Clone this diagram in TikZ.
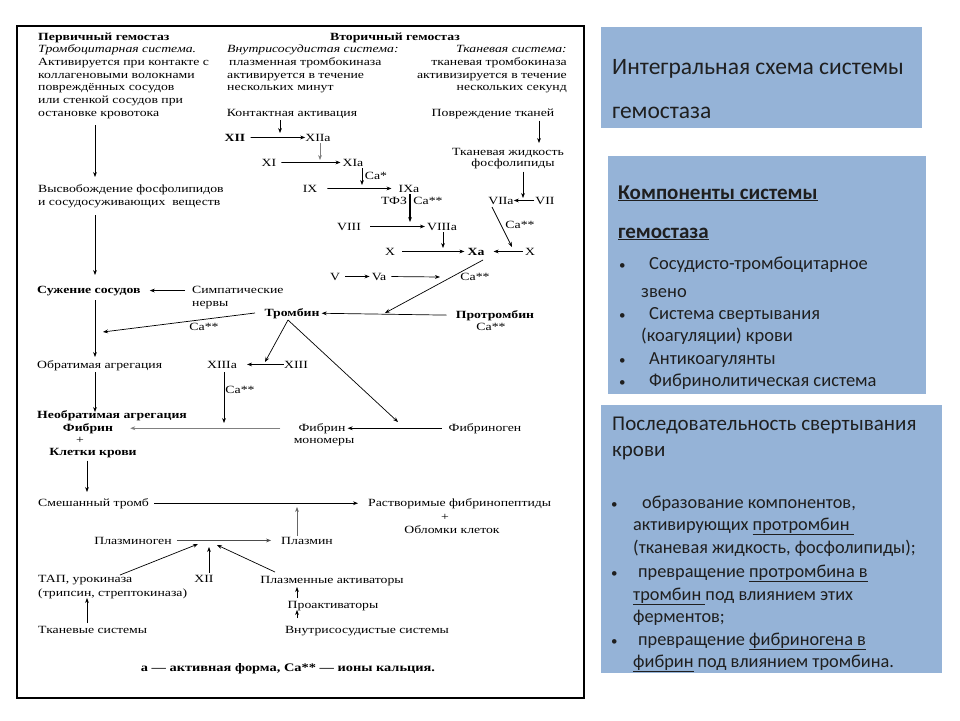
\documentclass[tikz,border=0pt]{standalone}
\usepackage{fontspec}
\setmainfont{Liberation Serif}
\newfontfamily\diag[FakeStretch=1.25]{Liberation Serif}
\newfontfamily\slide{Carlito}
\usetikzlibrary{arrows.meta}
\definecolor{panelblue}{HTML}{95B3D7}
\definecolor{slidetext}{HTML}{1F1F1F}
\begin{document}
\begin{tikzpicture}[x=1pt,y=-1pt,
  every node/.style={inner sep=0pt},
  t/.style={font=\diag\fontsize{11}{13}\selectfont, anchor=base},
  tb/.style={font=\diag\fontsize{11}{13}\selectfont\bfseries, anchor=base},
  ti/.style={font=\diag\fontsize{11}{13}\selectfont\itshape, anchor=base},
  lw/.style={anchor=base west},
  re/.style={anchor=base east},
  arr/.style={-{Stealth[length=5pt,width=3.8pt]}, line width=0.7pt},
  garr/.style={arr, draw=black!50},
  panel/.style={fill=panelblue},
  st/.style={font=\slide\fontsize{18.5}{22}\selectfont, text=slidetext, anchor=base west},
  st3/.style={font=\slide\fontsize{18.3}{22}\selectfont, text=slidetext, anchor=base west},
  bul/.style={font=\slide\fontsize{13}{15}\selectfont, text=slidetext, anchor=base west},
  sth/.style={font=\slide\fontsize{21}{24}\selectfont, text=slidetext, anchor=base west},
  stt/.style={font=\slide\fontsize{23.5}{26}\selectfont, text=slidetext, anchor=base west},
  stb/.style={font=\slide\fontsize{21}{24}\selectfont\bfseries, text=slidetext, anchor=base west}
]
\useasboundingbox (0,0) rectangle (960,720);
\fill[white] (0,0) rectangle (960,720);

% frame
\draw[line width=2.4pt] (17,26) rectangle (584,698);

% ---------- header texts
\node[tb,lw] (h1) at (38,40) {Первичный гемостаз};
\node[ti,lw] (h2) at (38,52.7) {Тромбоцитарная система.};
\node[t,lw] (h3) at (38,65.3) {Активируется при контакте с};
\node[t,lw] (h4) at (38,78) {коллагеновыми волокнами};
\node[t,lw] (h5) at (38,90.7) {повреждённых сосудов};
\node[t,lw] (h6) at (38,103.3) {или стенкой сосудов при};
\node[t,lw] (h7) at (38,116) {остановке кровотока};

\node[tb] (v1) at (395,40) {Вторичный гемостаз};
\node[ti,lw] (v2) at (227,52.7) {Внутрисосудистая система:};
\node[t,lw] (v3) at (229,65.3) {плазменная тромбокиназа};
\node[t,lw] (v4) at (227,78) {активируется в течение};
\node[t,lw] (v5) at (227,90.7) {нескольких минут};

\node[ti,re] (w2) at (567,52.7) {Тканевая система:};
\node[t,re] (w3) at (567,65.3) {тканевая тромбокиназа};
\node[t,re] (w4) at (567,78) {активизируется в течение};
\node[t,re] (w5) at (567,90.7) {нескольких секунд};

% ---------- primary column
\node[t,lw] (rel1) at (38,192) {Высвобождение фосфолипидов};
\node[t,lw] (rel2) at (38,205) {и сосудосуживающих\ \ веществ};
\node[tb,lw] (narrow) at (37,293) {Сужение сосудов};
\node[t,lw] (symp1) at (192,293) {Симпатические};
\node[t,lw] (symp2) at (192,306) {нервы};
\node[t] (ca5) at (204,330) {Ca**};
\node[t,lw] (revagg) at (37,368) {Обратимая агрегация};
\node[tb,lw] (irr) at (37,418) {Необратимая агрегация};
\node[tb] (fibrin) at (88,431) {Фибрин};
\node[t] (plus1) at (80,443) {+};
\node[tb] (cells) at (93,455) {Клетки крови};

% ---------- intrinsic cascade
\node[t] (contact) at (292,116) {Контактная активация};
\node[tb] (f12) at (235,141) {XII};
\node[t] (f12a) at (318,141) {XIIa};
\node[t] (f11) at (269,166) {XI};
\node[t] (f11a) at (353,166) {XIa};
\node[t] (ca1) at (376,179) {Ca*};
\node[t] (f9) at (310,192) {IX};
\node[t] (f9a) at (409,192) {IXa};
\node[t] (tf3) at (394,204) {ТФЗ};
\node[t] (ca2) at (428,204) {Ca**};
\node[t] (f8) at (349,230) {VIII};
\node[t] (f8a) at (442,230) {VIIIa};
\node[t] (f10l) at (390,255) {X};
\node[tb] (f10a) at (476,255) {Xa};
\node[t] (f10r) at (530,255) {X};
\node[t] (f5) at (335,280) {V};
\node[t] (f5a) at (379,280) {Va};
\node[t] (ca4) at (475,280) {Ca**};

% ---------- extrinsic
\node[t] (injury) at (493,116) {Повреждение тканей};
\node[t] (tiss1) at (508,155) {Тканевая жидкость};
\node[t] (tiss2) at (513,166) {фосфолипиды};
\node[t] (f7a) at (501,204) {VIIa};
\node[t] (f7) at (545,204) {VII};
\node[t] (ca3) at (520,228) {Ca**};

% ---------- thrombin etc
\node[tb] (thr) at (292,316) {Тромбин};
\node[tb] (prothr) at (495,318) {Протромбин};
\node[t] (ca6) at (491,330) {Ca**};
\node[t] (f13a) at (222,368) {XIIIa};
\node[t] (f13) at (296,368) {XIII};
\node[t] (ca7) at (240,393) {Ca**};
\node[t] (fm1) at (322,431) {Фибрин};
\node[t] (fm2) at (324,443) {мономеры};
\node[t] (fgen) at (485,431) {Фибриноген};

% ---------- fibrinolysis
\node[t,lw] (mixed) at (38,506) {Смешанный тромб};
\node[t,lw] (sol) at (368,506) {Растворимые фибринопептиды};
\node[t] (plus2) at (445,520) {+};
\node[t] (debris) at (452,533) {Обломки клеток};
\node[t] (plgen) at (133,544) {Плазминоген};
\node[t] (plas) at (307,544) {Плазмин};
\node[t,lw] (tap1) at (38,582) {ТАП, урокиназа};
\node[t,lw] (tap2) at (38,596) {(трипсин, стрептокиназа)};
\node[t] (f12b) at (204,582) {XII};
\node[t] (pact) at (332,583) {Плазменные активаторы};
\node[t] (proact) at (333,608) {Проактиваторы};
\node[t] (intra) at (367,633) {Внутрисосудистые системы};
\node[t,lw] (tsys) at (38,633) {Тканевые системы};
\node[font=\diag\fontsize{11.5}{13}\selectfont\bfseries, anchor=base] (foot) at (288,671) {а — активная форма, Ca** — ионы кальция.};

% ---------- coordinates for free ends
\coordinate (p1s) at (95,125); \coordinate (p1e) at (95,177);
\coordinate (p2s) at (95,215); \coordinate (p2e) at (95,275);
\coordinate (p3s) at (95,300); \coordinate (p3e) at (95,357);
\coordinate (p4s) at (95,372); \coordinate (p4e) at (95,412);
\coordinate (thrL) at (255,313); \coordinate (thrLe) at (103,332);
\coordinate (apex) at (288,320);
\coordinate (apexL) at (265,362); \coordinate (apexR) at (398,422);
\coordinate (c13s) at (224,372); \coordinate (c13e) at (224,423);
\coordinate (xaS) at (483,260); \coordinate (xaE) at (385,313);
\coordinate (vaE) at (440,277);
\coordinate (ctE) at (280,133); \coordinate (c12e) at (320,160);
\coordinate (c11e) at (362,185); \coordinate (tfE) at (410,222);
\coordinate (c8e) at (443,248);
\coordinate (injE) at (539,143); \coordinate (tisE) at (523,198);
\coordinate (c7s) at (492,207); \coordinate (c7e) at (512,247);
\coordinate (cellE) at (87,492);
\coordinate (plasE) at (297,507);
\coordinate (plHub) at (198,544); \coordinate (plHub2) at (209,547); \coordinate (plHub3) at (217,545);
\coordinate (tapS) at (120,575); \coordinate (pactS) at (275,572);
\coordinate (pa1s) at (297,598); \coordinate (pa1e) at (297,587);
\coordinate (pa2s) at (297,618); \coordinate (pa2e) at (297,610);
\coordinate (tsysS) at (87,623); \coordinate (tsysE) at (87,598);

% ---------- connectors: primary
\draw[arr] (p1s) -- (p1e);
\draw[arr] (p2s) -- (p2e);
\draw[arr] (p3s) -- (p3e);
\draw[arr] (p4s) -- (p4e);
\draw[arr, shorten <=7pt, shorten >=9pt] (symp1.west |- narrow.center) -- (narrow.east |- narrow.center);
\draw[arr] (thrL) -- (thrLe);
\draw[arr] (apex) -- (apexL);
\draw[arr] (apex) -- (apexR);
\draw[arr, shorten >=10pt] (f13.west) -- (f13a.east);
\draw[arr] (c13s) -- (c13e);
\draw[garr, shorten <=18pt, shorten >=17pt] (fm1.west) -- (fibrin.east);
\draw[arr, line width=0.9pt, shorten <=7pt, shorten >=2pt] (fgen.west) -- (fm1.east);
\draw[arr, shorten <=9pt, shorten >=2pt] (prothr.west) -- (thr.east);
\draw[arr] (xaS) -- (xaE);

% ---------- intrinsic
\draw[arr] (contact.south -| ctE) ++(0,2) -- (ctE);
\draw[arr, shorten <=5pt] (f12.east) -- (f12a.west);
\draw[garr] (f12a.south -| c12e) ++(0,2) -- (c12e);
\draw[arr, shorten <=5pt, shorten >=2pt] (f11.east) -- (f11a.west);
\draw[arr] (f11a.south -| c11e) ++(0,2) -- (c11e);
\draw[arr, shorten <=10pt, shorten >=7pt] (f9.east) -- (f9a.west);
\draw[arr, line width=1.1pt] (f9a.south -| tfE) ++(0,2) -- (tfE);
\draw[arr, shorten <=9pt, shorten >=2pt] (f8.east) -- (f8a.west);
\draw[arr] (f8a.south -| c8e) ++(0,2) -- (c8e);
\draw[arr, shorten <=7pt, shorten >=3pt] (f10l.east) -- (f10a.west);
\draw[arr, shorten <=2pt, shorten >=9pt] (f10r.west) -- (f10a.east);
\draw[arr, shorten <=5pt, shorten >=2pt] (f5.east) -- (f5a.west);
\draw[arr, shorten <=5pt] (f5a.east) -- (vaE);

% ---------- extrinsic
\draw[arr] (injury.south -| injE) ++(0,2) -- (injE);
\draw[arr] (tiss2.south -| tisE) ++(0,3) -- (tisE);
\draw[arr, shorten <=1pt] (f7.west) -- (f7a.east);
\draw[arr] (c7s) -- (c7e);

% ---------- fibrinolysis
\draw[arr] (cells.south -| cellE) ++(0,3) -- (cellE);
\draw[arr, shorten <=5pt, shorten >=10pt] (mixed.east) -- (sol.west);
\draw[arr, draw=black!60] (plas.north -| plasE) ++(0,-1) -- (plasE);
\draw[arr, draw=black!70, shorten <=5pt, shorten >=10pt] (plgen.east) -- (plas.west);
\draw[arr] (tapS) -- (plHub);
\draw[arr] (f12b.north -| plHub2) ++(0,-2) -- (plHub2);
\draw[arr] (pactS) -- (plHub3);
\draw[arr] (pa1s) -- (pa1e);
\draw[arr] (pa2s) -- (pa2e);
\draw[arr] (tsysS) -- (tsysE);

% ---------- right panels
\fill[panel] (601,27) rectangle (922,128);
\node[stt] (title1) at (612,74) {Интегральная схема системы};
\node[stt] (title2) at (612,118) {гемостаза};

\fill[panel] (608,156) rectangle (926,394);
\node[stb] (comp1) at (618,199) {\underline{Компоненты системы}};
\node[stb] (comp2) at (618,238) {\underline{гемостаза}};
\node[bul] (b1) at (619,269) {•};
\node[st] (c1) at (649,269) {Сосудисто-тромбоцитарное};
\node[st] (c1b) at (641,297) {звено};
\node[bul] (b2) at (619,319) {•};
\node[st] (c2) at (649,319) {Система свертывания};
\node[st] (c2b) at (641,341) {(коагуляции) крови};
\node[bul] (b3) at (619,364) {•};
\node[st] (c3) at (649,364) {Антикоагулянты};
\node[bul] (b4) at (619,386) {•};
\node[st] (c4) at (649,386) {Фибринолитическая система};

\fill[panel] (601,405) rectangle (942,673);
\node[sth] (seq1) at (612,430) {Последовательность свертывания};
\node[sth] (seq2) at (612,456) {крови};
\node[bul] (d1) at (611,508) {•};
\node[st3] (s1) at (642,508) {образование компонентов,};
\node[st3] (s1b) at (633,530) {активирующих \underline{протромбин }};
\node[st3] (s1c) at (633,553) {(тканевая жидкость, фосфолипиды);};
\node[bul] (d2) at (611,577) {•};
\node[st3] (s2) at (638,577) {превращение \underline{протромбина в}};
\node[st3] (s2b) at (633,600) {\underline{тромбин }под влиянием этих};
\node[st3] (s2c) at (633,622) {ферментов;};
\node[bul] (d3) at (611,645) {•};
\node[st3] (s3) at (638,645) {превращение \underline{фибриногена в}};
\node[st3] (s3b) at (633,667) {\underline{фибрин} под влиянием тромбина.};
\end{tikzpicture}
\end{document}
